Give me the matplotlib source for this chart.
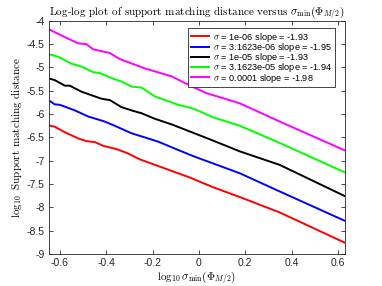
import matplotlib
matplotlib.use("Agg")
import matplotlib.pyplot as plt

# -----------------------------
# data
# -----------------------------
x_mag = [-0.643, -0.578, -0.521, -0.485, -0.456, -0.384, -0.341, -0.233, -0.118, -0.025, 0.033, 0.177, 0.349, 0.630]
y_mag = [-4.19, -4.35, -4.48, -4.50, -4.61, -4.69, -4.82, -5.02, -5.19, -5.42, -5.55, -5.77, -6.16, -6.78]

x_grn = [-0.643, -0.607, -0.549, -0.506, -0.456, -0.427, -0.370, -0.334, -0.291, -0.248, -0.190, -0.089, -0.025, 0.062, 0.177, 0.349, 0.630]
y_grn = [-4.72, -4.77, -4.92, -4.98, -5.10, -5.12, -5.24, -5.30, -5.41, -5.43, -5.62, -5.80, -5.88, -6.07, -6.25, -6.62, -7.25]

x_blk = [-0.643, -0.622, -0.578, -0.557, -0.506, -0.420, -0.384, -0.334, -0.284, -0.248, -0.190, -0.118, -0.025, 0.047, 0.177, 0.349, 0.630]
y_blk = [-5.24, -5.27, -5.39, -5.39, -5.52, -5.67, -5.70, -5.85, -5.93, -5.98, -6.10, -6.22, -6.40, -6.54, -6.80, -7.09, -7.76]

x_blu = [-0.643, -0.622, -0.600, -0.535, -0.478, -0.406, -0.363, -0.291, -0.233, -0.176, -0.089, -0.025, 0.177, 0.349, 0.630]
y_blu = [-5.72, -5.79, -5.80, -5.92, -6.05, -6.16, -6.25, -6.41, -6.50, -6.59, -6.77, -6.90, -7.27, -7.66, -8.29]

x_red = [-0.643, -0.622, -0.578, -0.521, -0.485, -0.449, -0.413, -0.356, -0.312, -0.255, -0.150, -0.039, 0.062, 0.177, 0.349, 0.630]
y_red = [-6.25, -6.27, -6.39, -6.52, -6.58, -6.60, -6.68, -6.75, -6.83, -6.97, -7.16, -7.36, -7.57, -7.78, -8.11, -8.76]

sigmas = ["1e-06", "3.1623e-06", "1e-05", "3.1623e-05", "0.0001"]
slopes = ["-1.93", "-1.95", "-1.93", "-1.94", "-1.98"]
colors = ["#ff0000", "#0000ff", "#000000", "#00ff00", "#ff00ff"]

xs = [x_red, x_blu, x_blk, x_grn, x_mag]
ys = [y_red, y_blu, y_blk, y_grn, y_mag]

# -----------------------------
# plot
# -----------------------------
plt.rcParams["mathtext.fontset"] = "cm"
plt.rcParams["axes.unicode_minus"] = False
plt.rcParams["font.family"] = ["Liberation Sans", "DejaVu Sans"]

fig = plt.figure(figsize=(3.82, 2.86), dpi=100)
ax = fig.add_axes([0.128, 0.112, 0.775, 0.815])

for i in range(len(xs)):
    ax.plot(xs[i], ys[i], color=colors[i], lw=1.4,
            label="$\\sigma$ = " + sigmas[i] + " slope = " + slopes[i])

ax.set_xlim(-0.647, 0.630)
ax.set_ylim(-9, -4)
ax.set_xticks([-0.6, -0.4, -0.2, 0, 0.2, 0.4, 0.6])
ax.set_xticklabels(["-0.6", "-0.4", "-0.2", "0", "0.2", "0.4", "0.6"])
ax.set_yticks([-9, -8.5, -8, -7.5, -7, -6.5, -6, -5.5, -5, -4.5, -4])
ax.set_yticklabels(["-9", "-8.5", "-8", "-7.5", "-7", "-6.5", "-6", "-5.5", "-5", "-4.5", "-4"])

ax.tick_params(direction="in", top=True, right=True, length=3, width=0.6,
               labelsize=7.5, colors="#262626", pad=3)
for s in ax.spines.values():
    s.set_color("#262626")
    s.set_linewidth(0.6)

ax.set_title("Log-log plot of support matching distance versus $\\sigma_{\\min}(\\Phi_{M/2})$",
             fontsize=8, family="cmr10", pad=4)
ax.set_xlabel("$\\log_{10}\\sigma_{\\min}(\\Phi_{M/2})$", fontsize=8, labelpad=1)
ax.set_ylabel("$\\log_{10}$ Support matching distance", fontsize=8, family="cmr10", labelpad=2)

leg = ax.legend(loc="upper right", fontsize=6.6, handlelength=2.0, handletextpad=0.4,
                borderpad=0.3, labelspacing=-0.3, borderaxespad=0.0, fancybox=False,
                framealpha=1, bbox_to_anchor=(0.966, 0.97))
leg.get_frame().set_edgecolor("#262626")
leg.get_frame().set_linewidth(0.6)

plt.savefig("out.png", dpi=100)
plt.close()
